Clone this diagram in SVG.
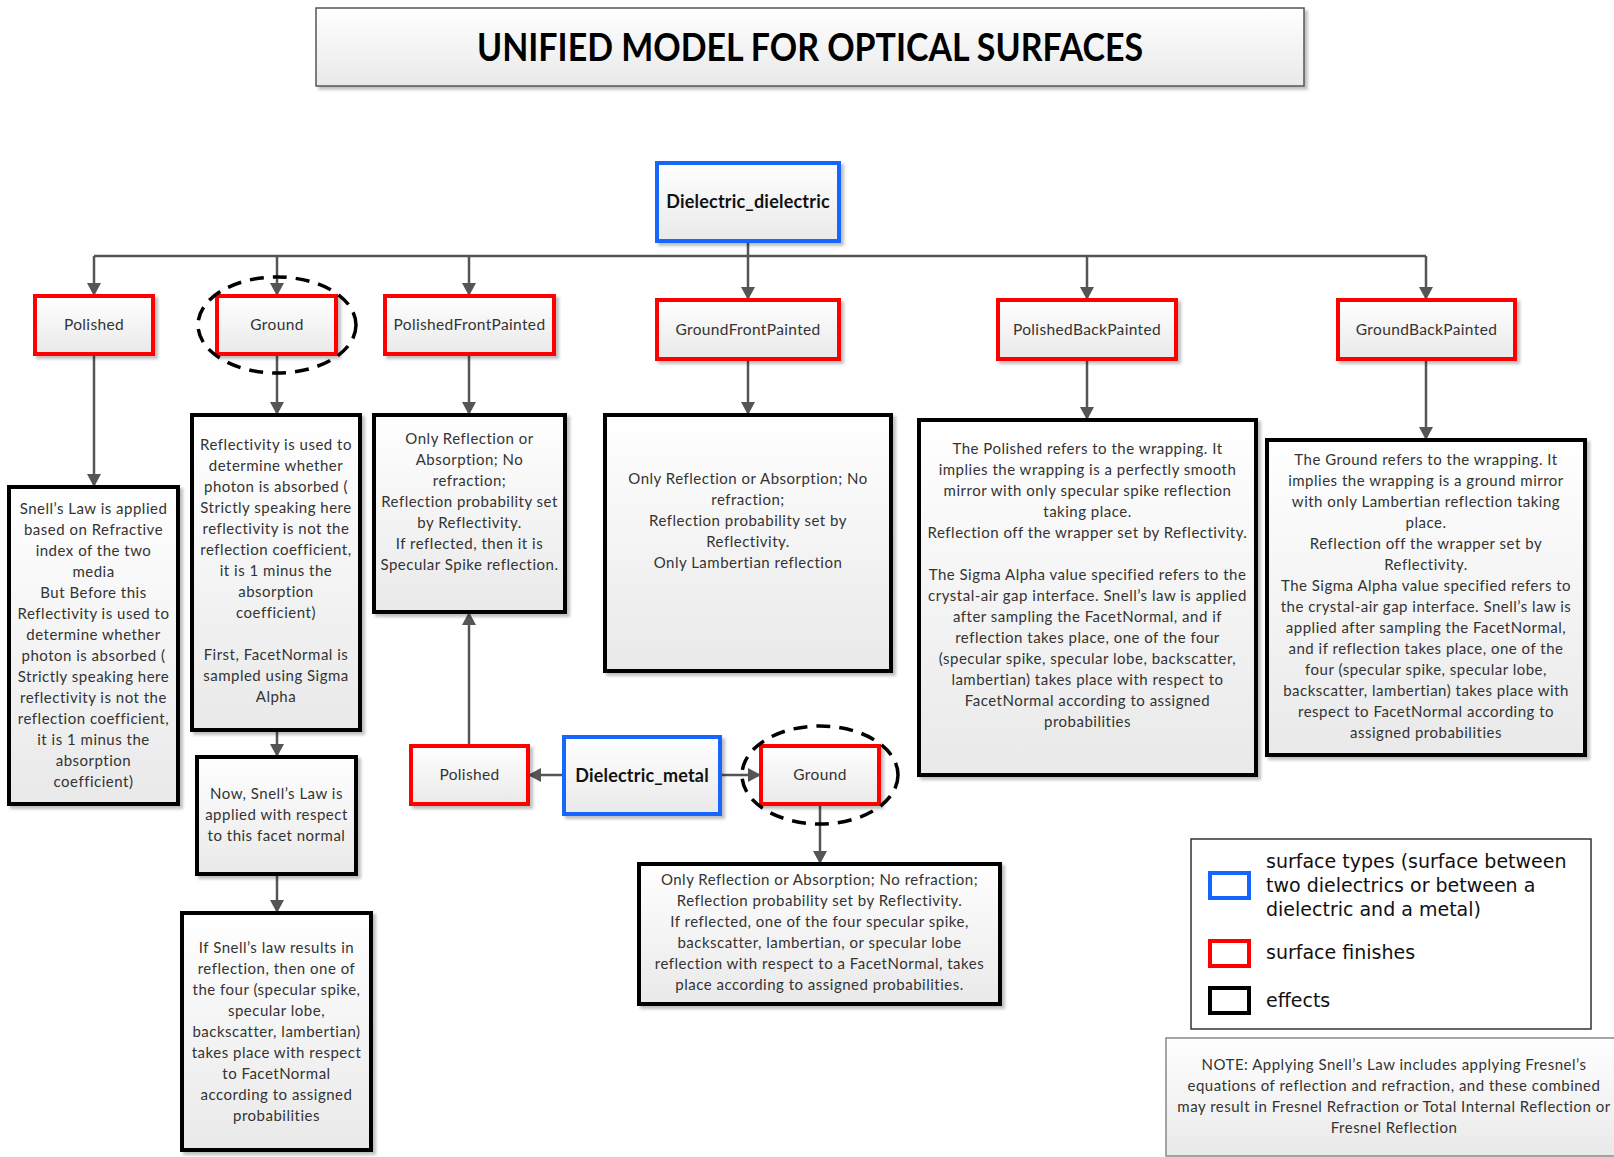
<svg xmlns="http://www.w3.org/2000/svg" width="1614" height="1157" viewBox="0 0 1614 1157">
<defs>
<linearGradient id="g" x1="0" y1="0" x2="0" y2="1"><stop offset="0" stop-color="#ffffff"/><stop offset="1" stop-color="#e9e9e9"/></linearGradient>
<filter id="sh" x="-10%" y="-10%" width="130%" height="130%"><feDropShadow dx="3" dy="3" stdDeviation="1.5" flood-color="#000" flood-opacity="0.25"/></filter>
<marker id="ah" markerUnits="userSpaceOnUse" markerWidth="14" markerHeight="14" refX="13" refY="7" orient="auto"><path d="M0,0 L13,7 L0,14 z" fill="#555"/></marker>
</defs>
<style>
.box{fill:url(#g);filter:url(#sh)}
.fin{stroke:#ff0000;stroke-width:4}
.typ{stroke:#1466ff;stroke-width:4}
.eff{stroke:#000;stroke-width:4}
.t{font-family:Lato,"Liberation Sans",sans-serif;font-size:15px;letter-spacing:0.5px;fill:#333;text-anchor:middle}
.lb{font-family:Lato,"Liberation Sans",sans-serif;font-size:15.5px;letter-spacing:0.35px;fill:#333;text-anchor:middle}
.bd{font-family:Lato,"Liberation Sans",sans-serif;font-size:18px;letter-spacing:0.2px;font-weight:bold;fill:#111;text-anchor:middle}
.lg{font-family:"DejaVu Sans",sans-serif;font-size:19px;fill:#111}
.c{fill:none;stroke:#555;stroke-width:2.5}
.ca{fill:none;stroke:#555;stroke-width:2.5;marker-end:url(#ah)}
.dash{fill:none;stroke:#000;stroke-width:3.5;stroke-dasharray:14 9}
</style>

<g id="title">
<rect x="316" y="8" width="988" height="78" fill="url(#g)" stroke="#555" stroke-width="1.5" filter="url(#sh)"/>
<text x="810" y="61" font-family="Lato,'Liberation Sans',sans-serif" font-size="38" font-weight="bold" fill="#000" text-anchor="middle" textLength="666" lengthAdjust="spacingAndGlyphs">UNIFIED MODEL FOR OPTICAL SURFACES</text>
</g>

<g id="connectors">
<path class="c" d="M748,241 V256 M94,256 H1426"/>
<path class="ca" d="M94,256 V296"/>
<path class="ca" d="M277,256 V296"/>
<path class="ca" d="M469,256 V296"/>
<path class="ca" d="M748,256 V300"/>
<path class="ca" d="M1087,256 V300"/>
<path class="ca" d="M1426,256 V300"/>
<path class="ca" d="M94,354 V487"/>
<path class="ca" d="M277,354 V415"/>
<path class="ca" d="M277,730 V757"/>
<path class="ca" d="M277,874 V913"/>
<path class="ca" d="M469,354 V415"/>
<path class="ca" d="M748,359 V415"/>
<path class="ca" d="M1087,359 V420"/>
<path class="ca" d="M1426,359 V440"/>
<path class="ca" d="M564,775 H528"/>
<path class="ca" d="M720,775 H761"/>
<path class="ca" d="M469,746 V612"/>
<path class="ca" d="M820,804 V864"/>
</g>

<g id="dielectric_dielectric"><rect class="box typ" x="657" y="163" width="182" height="78"/><text class="bd" x="748" y="208">Dielectric_dielectric</text></g>

<g id="polished"><rect class="box fin" x="35" y="296" width="118" height="58"/><text class="lb" x="94" y="330">Polished</text></g>
<g id="ground"><rect class="box fin" x="217" y="296" width="119" height="58"/><text class="lb" x="277" y="330">Ground</text><ellipse class="dash" cx="277" cy="325" rx="79" ry="48"/></g>
<g id="polishedfrontpainted"><rect class="box fin" x="385" y="296" width="169" height="58"/><text class="lb" x="469.5" y="330">PolishedFrontPainted</text></g>
<g id="groundfrontpainted"><rect class="box fin" x="657" y="300" width="182" height="59"/><text class="lb" x="748" y="335">GroundFrontPainted</text></g>
<g id="polishedbackpainted"><rect class="box fin" x="998" y="300" width="178" height="59"/><text class="lb" x="1087" y="335">PolishedBackPainted</text></g>
<g id="groundbackpainted"><rect class="box fin" x="1338" y="300" width="177" height="59"/><text class="lb" x="1426.5" y="335">GroundBackPainted</text></g>

<g id="effect_polished"><rect class="box eff" x="9" y="487" width="169" height="317"/>
<text class="t"><tspan x="93.5" y="514">Snell’s Law is applied</tspan><tspan x="93.5" y="535">based on Refractive</tspan><tspan x="93.5" y="556">index of the two</tspan><tspan x="93.5" y="577">media</tspan><tspan x="93.5" y="598">But Before this</tspan><tspan x="93.5" y="619">Reflectivity is used to</tspan><tspan x="93.5" y="640">determine whether</tspan><tspan x="93.5" y="661">photon is absorbed (</tspan><tspan x="93.5" y="682">Strictly speaking here</tspan><tspan x="93.5" y="703">reflectivity is not the</tspan><tspan x="93.5" y="724">reflection coefficient,</tspan><tspan x="93.5" y="745">it is 1 minus the</tspan><tspan x="93.5" y="766">absorption</tspan><tspan x="93.5" y="787">coefficient)</tspan></text></g>

<g id="effect_ground_1"><rect class="box eff" x="192" y="415" width="168" height="315"/>
<text class="t"><tspan x="276" y="450">Reflectivity is used to</tspan><tspan x="276" y="471">determine whether</tspan><tspan x="276" y="492">photon is absorbed (</tspan><tspan x="276" y="513">Strictly speaking here</tspan><tspan x="276" y="534">reflectivity is not the</tspan><tspan x="276" y="555">reflection coefficient,</tspan><tspan x="276" y="576">it is 1 minus the</tspan><tspan x="276" y="597">absorption</tspan><tspan x="276" y="618">coefficient)</tspan><tspan x="276" y="660">First, FacetNormal is</tspan><tspan x="276" y="681">sampled using Sigma</tspan><tspan x="276" y="702">Alpha</tspan></text></g>

<g id="effect_ground_2"><rect class="box eff" x="197" y="757" width="159" height="117"/>
<text class="t"><tspan x="276.5" y="799">Now, Snell’s Law is</tspan><tspan x="276.5" y="820">applied with respect</tspan><tspan x="276.5" y="841">to this facet normal</tspan></text></g>

<g id="effect_ground_3"><rect class="box eff" x="182" y="913" width="189" height="237"/>
<text class="t"><tspan x="276.5" y="953">If Snell’s law results in</tspan><tspan x="276.5" y="974">reflection, then one of</tspan><tspan x="276.5" y="995">the four (specular spike,</tspan><tspan x="276.5" y="1016">specular lobe,</tspan><tspan x="276.5" y="1037">backscatter, lambertian)</tspan><tspan x="276.5" y="1058">takes place with respect</tspan><tspan x="276.5" y="1079">to FacetNormal</tspan><tspan x="276.5" y="1100">according to assigned</tspan><tspan x="276.5" y="1121">probabilities</tspan></text></g>

<g id="effect_polishedfrontpainted"><rect class="box eff" x="374" y="415" width="191" height="197"/>
<text class="t"><tspan x="469.5" y="444">Only Reflection or</tspan><tspan x="469.5" y="465">Absorption; No</tspan><tspan x="469.5" y="486">refraction;</tspan><tspan x="469.5" y="507">Reflection probability set</tspan><tspan x="469.5" y="528">by Reflectivity.</tspan><tspan x="469.5" y="549">If reflected, then it is</tspan><tspan x="469.5" y="570">Specular Spike reflection.</tspan></text></g>

<g id="effect_groundfrontpainted"><rect class="box eff" x="605" y="415" width="286" height="256"/>
<text class="t"><tspan x="748" y="484">Only Reflection or Absorption; No</tspan><tspan x="748" y="505">refraction;</tspan><tspan x="748" y="526">Reflection probability set by</tspan><tspan x="748" y="547">Reflectivity.</tspan><tspan x="748" y="568">Only Lambertian reflection</tspan></text></g>

<g id="effect_polishedbackpainted"><rect class="box eff" x="919" y="420" width="337" height="355"/>
<text class="t"><tspan x="1087.5" y="454">The Polished refers to the wrapping. It</tspan><tspan x="1087.5" y="475">implies the wrapping is a perfectly smooth</tspan><tspan x="1087.5" y="496">mirror with only specular spike reflection</tspan><tspan x="1087.5" y="517">taking place.</tspan><tspan x="1087.5" y="538">Reflection off the wrapper set by Reflectivity.</tspan><tspan x="1087.5" y="580">The Sigma Alpha value specified refers to the</tspan><tspan x="1087.5" y="601">crystal-air gap interface. Snell’s law is applied</tspan><tspan x="1087.5" y="622">after sampling the FacetNormal, and if</tspan><tspan x="1087.5" y="643">reflection takes place, one of the four</tspan><tspan x="1087.5" y="664">(specular spike, specular lobe, backscatter,</tspan><tspan x="1087.5" y="685">lambertian) takes place with respect to</tspan><tspan x="1087.5" y="706">FacetNormal according to assigned</tspan><tspan x="1087.5" y="727">probabilities</tspan></text></g>

<g id="effect_groundbackpainted"><rect class="box eff" x="1267" y="440" width="318" height="315"/>
<text class="t"><tspan x="1426" y="465">The Ground refers to the wrapping. It</tspan><tspan x="1426" y="486">implies the wrapping is a ground mirror</tspan><tspan x="1426" y="507">with only Lambertian reflection taking</tspan><tspan x="1426" y="528">place.</tspan><tspan x="1426" y="549">Reflection off the wrapper set by</tspan><tspan x="1426" y="570">Reflectivity.</tspan><tspan x="1426" y="591">The Sigma Alpha value specified refers to</tspan><tspan x="1426" y="612">the crystal-air gap interface. Snell’s law is</tspan><tspan x="1426" y="633">applied after sampling the FacetNormal,</tspan><tspan x="1426" y="654">and if reflection takes place, one of the</tspan><tspan x="1426" y="675">four (specular spike, specular lobe,</tspan><tspan x="1426" y="696">backscatter, lambertian) takes place with</tspan><tspan x="1426" y="717">respect to FacetNormal according to</tspan><tspan x="1426" y="738">assigned probabilities</tspan></text></g>

<g id="dielectric_metal"><rect class="box typ" x="564" y="737" width="156" height="77"/><text class="bd" x="642" y="782">Dielectric_metal</text></g>
<g id="metal_polished"><rect class="box fin" x="411" y="746" width="117" height="58"/><text class="lb" x="469.5" y="780">Polished</text></g>
<g id="metal_ground"><rect class="box fin" x="761" y="746" width="118" height="58"/><text class="lb" x="820" y="780">Ground</text><ellipse class="dash" cx="820" cy="775" rx="78" ry="49"/></g>

<g id="effect_metal_ground"><rect class="box eff" x="639" y="864" width="361" height="140"/>
<text class="t"><tspan x="819.5" y="885">Only Reflection or Absorption; No refraction;</tspan><tspan x="819.5" y="906">Reflection probability set by Reflectivity.</tspan><tspan x="819.5" y="927">If reflected, one of the four specular spike,</tspan><tspan x="819.5" y="948">backscatter, lambertian, or specular lobe</tspan><tspan x="819.5" y="969">reflection with respect to a FacetNormal, takes</tspan><tspan x="819.5" y="990">place according to assigned probabilities.</tspan></text></g>

<g id="legend">
<rect x="1191" y="839" width="400" height="190" fill="#fff" stroke="#333" stroke-width="1.5"/>
<rect x="1210" y="873" width="39" height="25" fill="#fff" stroke="#1466ff" stroke-width="4"/>
<rect x="1210" y="941" width="39" height="25" fill="#fff" stroke="#ff0000" stroke-width="4"/>
<rect x="1210" y="988" width="39" height="25" fill="#fff" stroke="#000" stroke-width="4"/>
<text class="lg"><tspan x="1266" y="868">surface types (surface between</tspan><tspan x="1266" y="892">two dielectrics or between a</tspan><tspan x="1266" y="916">dielectric and a metal)</tspan></text>
<text class="lg" x="1266" y="959">surface finishes</text>
<text class="lg" x="1266" y="1007">effects</text>
</g>

<g id="note">
<rect x="1166" y="1038" width="460" height="118" fill="url(#g)" stroke="#888" stroke-width="1.5"/>
<text class="t"><tspan x="1394" y="1070">NOTE: Applying Snell’s Law includes applying Fresnel’s</tspan><tspan x="1394" y="1091">equations of reflection and refraction, and these combined</tspan><tspan x="1394" y="1112">may result in Fresnel Refraction or Total Internal Reflection or</tspan><tspan x="1394" y="1133">Fresnel Reflection</tspan></text>
</g>
</svg>
